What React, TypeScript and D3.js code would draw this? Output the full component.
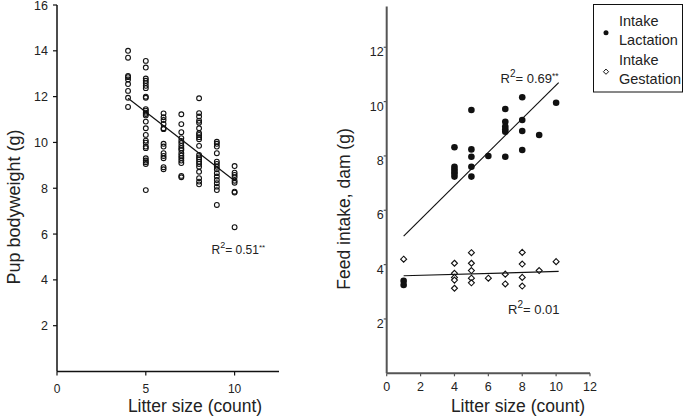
import React from "react";
import * as d3 from "d3";

// ---------- data ----------
const litterSizes = [4, 5, 6, 7, 8, 9, 10];
const pupWeights: number[][] = [
  [14.0, 13.7, 12.9, 12.85, 12.75, 12.55, 12.25, 11.95, 11.55],
  [13.56, 13.27, 12.79, 12.69, 12.59, 12.47, 12.37, 12.0, 11.95, 11.45, 11.39, 11.3, 11.24, 11.18, 10.91, 10.62, 10.33, 10.08, 9.99, 9.82, 9.75, 9.31, 9.21, 9.14, 9.06, 7.92],
  [11.27, 11.1, 10.98, 10.81, 10.62, 10.58, 9.94, 9.82, 9.53, 9.41, 9.31, 8.92, 8.83],
  [11.23, 10.8, 10.45, 10.19, 10.07, 9.97, 9.85, 9.75, 9.67, 9.53, 9.42, 9.32, 9.21, 9.1, 8.54, 8.48],
  [11.93, 11.28, 11.13, 10.95, 10.86, 10.62, 10.4, 10.33, 10.23, 10.14, 9.85, 9.45, 9.35, 9.27, 9.16, 9.06, 8.94, 8.72, 8.44, 8.29, 8.17],
  [10.03, 9.94, 9.82, 9.53, 9.16, 9.06, 8.94, 8.83, 8.66, 8.51, 8.36, 8.22, 8.07, 7.92, 7.27],
  [8.97, 8.68, 8.58, 8.48, 8.33, 8.24, 7.85, 7.81, 6.3],
];
const pupFit: [number, number][] = [[4, 11.93], [10, 8.33]];

const lactationX = [1, 1, 4, 4, 4, 4, 4, 4, 5, 5, 5, 5, 5, 6, 7, 7, 7, 7, 7, 7, 8, 8, 8, 8, 9, 10];
const lactationY = [3.4, 3.25, 8.32, 7.6, 7.51, 7.42, 7.34, 7.24, 9.69, 8.24, 7.97, 7.6, 7.24, 8.0, 9.73, 9.26, 9.08, 8.98, 8.89, 7.97, 10.16, 9.32, 8.92, 8.22, 8.77, 9.96];
const lactationFit: [number, number][] = [[1, 5.05], [10.15, 10.7]];

const gestationX = [1, 4, 4, 4, 4, 4, 5, 5, 5, 5, 5, 6, 7, 7, 8, 8, 8, 8, 9, 10];
const gestationY = [4.2, 4.05, 3.68, 3.53, 3.43, 3.13, 4.44, 4.05, 3.78, 3.5, 3.33, 3.5, 3.65, 3.29, 4.45, 4.02, 3.53, 3.21, 3.78, 4.11];
const gestationFit: [number, number][] = [[1, 3.59], [10.15, 3.75]];

const leftXTicks = [0, 5, 10];
const leftYTicks = [2, 4, 6, 8, 10, 12, 14, 16];
const rightXTicks = [0, 2, 4, 6, 8, 10, 12];
const rightYTicks = [2, 4, 6, 8, 10, 12];

const FONT = "'Liberation Sans', Arial, Helvetica, sans-serif";

export default function App() {
  const lx = d3.scaleLinear().domain([0, 12.5]).range([57, 279]);
  const ly = d3.scaleLinear().domain([0, 16]).range([371.5, 5]);
  const rx = d3.scaleLinear().domain([0, 12]).range([386.7, 590]);
  const ry = d3.scaleLinear().domain([0, 13.5]).range([373.3, 6.5]);

  const lLine = d3.line<[number, number]>().x((d) => lx(d[0])).y((d) => ly(d[1]));
  const rLine = d3.line<[number, number]>().x((d) => rx(d[0])).y((d) => ry(d[1]));

  const diamond = (cx: number, cy: number, s: number) =>
    `M${cx},${cy - s}L${cx + s},${cy}L${cx},${cy + s}L${cx - s},${cy}Z`;

  return (
    <svg width={685} height={416} style={{ position: "absolute", left: 0, top: 0, background: "#fff" }} fontFamily={FONT}>
      <rect x={0} y={0} width={685} height={416} fill="#fff" />

      {/* ---------- LEFT PANEL ---------- */}
      <g>
        <line x1={lx(0)} y1={ly(0)} x2={lx(0)} y2={ly(16)} stroke="#111" strokeWidth={1.5} />
        <line x1={lx(0)} y1={ly(0)} x2={lx(12.5)} y2={ly(0)} stroke="#111" strokeWidth={1.5} />
        {leftYTicks.map((t) => (
          <g key={"ly" + t}>
            <line x1={lx(0) - 4} x2={lx(0)} y1={ly(t)} y2={ly(t)} stroke="#111" strokeWidth={1.2} />
            <text x={lx(0) - 9} y={ly(t)} dy="0.36em" textAnchor="end" fontSize={12.5} fill="#222">{t}</text>
          </g>
        ))}
        {leftXTicks.map((t) => (
          <g key={"lx" + t}>
            <line x1={lx(t)} x2={lx(t)} y1={ly(0)} y2={ly(0) + 4} stroke="#111" strokeWidth={1.2} />
            <text x={lx(t)} y={392.5} textAnchor="middle" fontSize={12} fill="#222">{t}</text>
          </g>
        ))}
        {pupWeights.map((arr, i) =>
          arr.map((v, j) => (
            <circle key={`p${i}-${j}`} cx={lx(litterSizes[i])} cy={ly(v)} r={2.4} fill="none" stroke="#111" strokeWidth={1.1} />
          ))
        )}
        <path d={lLine(pupFit) || ""} stroke="#111" strokeWidth={1.2} fill="none" />
        <text x={211.5} y={254} fontSize={12} fill="#222">
          R<tspan dy={-6} fontSize={9}>2</tspan><tspan dy={6}>= 0.51</tspan><tspan dy={-4} fontSize={8}>**</tspan>
        </text>
        <text transform="translate(20,207) rotate(-90)" textAnchor="middle" fontSize={18} fill="#222">Pup bodyweight (g)</text>
        <text x={195} y={412} textAnchor="middle" fontSize={17.5} fill="#222">Litter size (count)</text>
      </g>

      {/* ---------- RIGHT PANEL ---------- */}
      <g>
        <line x1={rx(0)} y1={ry(0)} x2={rx(0)} y2={ry(13.5)} stroke="#555" strokeWidth={2} />
        <line x1={rx(0)} y1={ry(0)} x2={rx(12)} y2={ry(0)} stroke="#555" strokeWidth={2} />
        {rightYTicks.map((t) => (
          <g key={"ry" + t}>
            <line x1={rx(0) - 3} x2={rx(0)} y1={ry(t)} y2={ry(t)} stroke="#555" strokeWidth={1.2} />
            <text x={rx(0) - 3} y={ry(t) + 9} textAnchor="end" fontSize={12.5} fill="#222">{t}</text>
          </g>
        ))}
        {rightXTicks.map((t) => (
          <g key={"rx" + t}>
            <line x1={rx(t)} x2={rx(t)} y1={ry(0)} y2={ry(0) + 3} stroke="#555" strokeWidth={1.2} />
            <text x={rx(t)} y={391} textAnchor="middle" fontSize={12.5} fill="#222">{t}</text>
          </g>
        ))}
        {lactationX.map((x, i) => (
          <circle key={"l" + i} cx={rx(x)} cy={ry(lactationY[i])} r={3.3} fill="#111" />
        ))}
        {gestationX.map((x, i) => (
          <path key={"g" + i} d={diamond(rx(x), ry(gestationY[i]), 3)} fill="#fff" stroke="#111" strokeWidth={1.1} />
        ))}
        <path d={rLine(lactationFit) || ""} stroke="#111" strokeWidth={1.2} fill="none" />
        <path d={rLine(gestationFit) || ""} stroke="#111" strokeWidth={1.2} fill="none" />
        <text x={500.5} y={82.5} fontSize={13} fill="#222">
          R<tspan dy={-6} fontSize={10}>2</tspan><tspan dy={6}>= 0.69</tspan><tspan dy={-4} fontSize={8.5}>**</tspan>
        </text>
        <text x={508} y={313.5} fontSize={13} fill="#222">
          R<tspan dy={-6} fontSize={10}>2</tspan><tspan dy={6}>= 0.01</tspan>
        </text>
        <text transform="translate(350,209) rotate(-90)" textAnchor="middle" fontSize={17.5} fill="#222">Feed intake, dam (g)</text>
        <text x={518} y={412} textAnchor="middle" fontSize={17.5} fill="#222">Litter size (count)</text>
      </g>

      {/* ---------- LEGEND ---------- */}
      <g>
        <rect x={593.5} y={4.5} width={89} height={87.5} fill="#fff" stroke="#111" strokeWidth={1} />
        <circle cx={606} cy={32.7} r={2.5} fill="#111" />
        <text x={619} y={26} fontSize={14.5} fill="#222">Intake</text>
        <text x={619} y={45} fontSize={14.5} fill="#222">Lactation</text>
        <path d={diamond(606, 71.7, 2.6)} fill="#fff" stroke="#111" strokeWidth={1} />
        <text x={619} y={65} fontSize={14.5} fill="#222">Intake</text>
        <text x={619} y={83.5} fontSize={14.5} fill="#222">Gestation</text>
      </g>
    </svg>
  );
}
